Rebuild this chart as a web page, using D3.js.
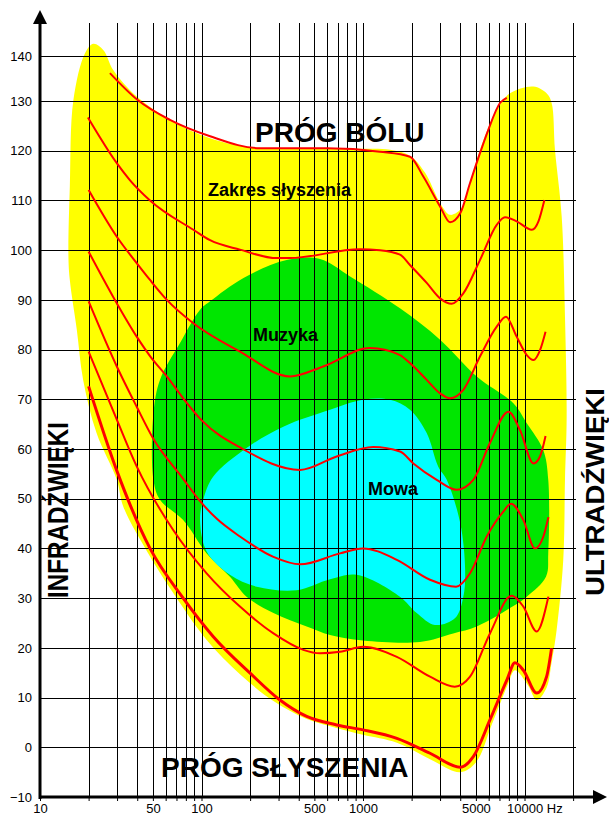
<!DOCTYPE html>
<html>
<head>
<meta charset="utf-8">
<script src="https://cdn.jsdelivr.net/npm/d3@7"></script>
<style>
  body { margin: 0; background: #fff; }
  svg { display: block; font-family: "Liberation Sans", Arial, sans-serif; }
</style>
</head>
<body>
<div id="chart"></div>
<script>
// tick values
const xLabels = [10, 50, 100, 500, 1000, 5000, 10000];
const gridFreqs = [20, 30, 40, 50, 60, 70, 80, 90, 100, 200, 300, 400, 500, 600, 700, 800, 900,
  1000, 2000, 3000, 4000, 5000, 6000, 7000, 8000, 9000, 10000, 20000];
const dbTicks = [-10, 0, 10, 20, 30, 40, 50, 60, 70, 80, 90, 100, 110, 120, 130, 140];

// regions [Hz, dB]
const hearingArea = [[16.1,130.2],[19,140.6],[21.4,142.7],[24.7,141.3],[28.4,136.9],[39.7,131],[63.8,126.2],
  [113,122.5],[191,120.8],[408,120.4],[1000,120.4],[1470,120.2],[1953,119],[2420,115.6],[3000,109.5],
  [3460,107.1],[4000,108.1],[4290,110.1],[5300,120.2],[6730,128.2],[8130,131.7],[11350,133.2],[13700,131.7],
  [14720,129.6],[15440,120.2],[16990,106.8],[17810,86.6],[18240,66.5],[17810,53.8],[17380,37.7],[15810,23.6],
  [14700,17],[13700,12],[11900,9.5],[10500,12.5],[8730,15.5],[7900,12.7],[6290,4.7],[5010,-3],[4000,-5],
  [2600,-2.4],[1620,0.9],[1000,2.5],[721,3.7],[448,5.7],[279,9.3],[173,14.7],[107.6,21.6],[67,31],[48,38.4],
  [32.8,48.4],[29.9,53.8],[22.4,63.2],[18.5,73.9],[16.9,84],[15.3,94],[15,98.7],[15.3,112.8]];
const musicArea = [[98,88],[113,89.7],[182,94.4],[337,98],[542,98.2],[832,94.7],[1694,88.3],[3000,82],
  [5060,74.6],[8530,69.2],[10330,65.2],[13060,59.8],[14030,53.8],[14030,39],[13580,34.3],[10330,30.3],
  [8130,28],[5060,24.3],[3620,22.9],[2250,21.2],[1000,21.5],[625,22.6],[448,24.3],[279,27],[190,30.3],
  [150,34.3],[107.6,39],[77,45.7],[55.3,49.8],[50.4,53.8],[50.4,67.2],[55.3,73.9],[73.6,81.3]];
const speechArea = [[102.6,49.8],[118,54.4],[190,60.2],[321,64.5],[625,67.9],[1000,69.9],[1470,69.9],
  [1953,67.9],[2480,63.2],[2920,56.5],[3300,53.8],[4000,45.1],[4290,35.7],[4180,30.3],[3720,26],[2790,24.6],
  [2150,27],[1694,30.3],[914,34.7],[625,33.8],[388,31.6],[220,32.3],[150,34.7],[107.6,39.4],[98,45.7]];

// equal loudness curves [Hz, dB]
const phon0 = [[20,72.6],[30,55.5],[48,40],[77,30],[118,22.3],[200,14.9],[306,9.5],[448,6.2],[687,4.5],
  [1000,3.5],[1620,1.8],[2600,-1.2],[4000,-4],[4820,-1.9],[6110,5.5],[7770,13.5],[8730,17],[9840,15.5],
  [11900,10.9],[13700,14.2],[14700,19.9]];
const phon20 = [[20,79.6],[29.9,65.9],[39.7,56.5],[66.8,43.7],[107.6,35],[173,28.3],[279,22.9],[427,19.6],
  [542,18.9],[721,19.2],[1000,20.2],[1620,18.2],[2600,14.2],[3700,12.2],[4600,14.2],[6110,22.9],[8340,30.5],
  [9840,28.3],[11900,23.3],[14060,30.3]];
const phon40 = [[20,89.7],[29.9,76.6],[39.7,68.5],[50,62.2],[77,54],[98,49.5],[124,46],[173,42.4],
  [279,38.3],[408,36.8],[721,39],[1000,40],[1620,37.7],[2600,33.7],[3770,32.3],[4600,35],[5840,42.4],
  [7390,47.4],[8250,49],[9840,45.7],[11610,40],[13090,42.4],[14060,46.3]];
const phon60 = [[20,99.7],[29.9,89.3],[39.7,82.6],[48,78.7],[61,74.6],[77,70.2],[100,65.8],[180,60],
  [408,55.8],[687,58.5],[1159,60.4],[1694,59.5],[2050,57.1],[2860,53.8],[3800,51.8],[4820,53.8],
  [6110,61.2],[7950,67.5],[9380,63.8],[11360,57.1],[12480,58.5],[13500,62.6]];
const phon80 = [[20,112.1],[29.9,102.7],[39.7,97.4],[48,94],[61,90],[89,85.3],[173,79.6],[353,74.6],
  [567,76.6],[1104,80.3],[1694,78.9],[1953,77.3],[2480,73.9],[3000,71.2],[3460,70.2],[4180,71.9],
  [5300,78.6],[6730,84.6],[7680,86.6],[8940,82.6],[10330,78.9],[11360,77.9],[12480,79.9],[13500,83.6]];
const phon100 = [[19.8,126.7],[29.9,117.5],[36,114.1],[48,110],[89,104.1],[113,102],[173,100.1],
  [292,98.4],[353,98.4],[957,100.2],[1274,100],[1694,99.1],[1953,97],[2480,93.4],[3000,90.3],[3540,89.2],
  [4180,91.3],[5300,98],[6730,105.1],[7570,106.6],[8940,105.8],[11100,104.1],[12200,105.8],[13280,110.1]];
const phon120 = [[27.1,136.2],[39.7,130.4],[63.8,126.2],[113,122.9],[230,120.5],[596,120.5],[1274,119.8],
  [1953,118.8],[2363,114.8],[3000,108.8],[3460,105.6],[4000,107.4],[4600,113.5],[5300,119.5],[5970,124.2],
  [7050,129.6],[7770,130.7]];

const width = 609, height = 816;

const svg = d3.select("#chart").append("svg")
  .attr("width", width)
  .attr("height", height);

const x = d3.scaleLog().domain([10, 10000]).range([40, 524.5]);
const y = d3.scaleLinear().domain([-10, 130, 140]).range([797, 101, 56]);

const closed = d3.line().x(d => x(d[0])).y(d => y(d[1])).curve(d3.curveCatmullRomClosed.alpha(0.5));
const open = d3.line().x(d => x(d[0])).y(d => y(d[1])).curve(d3.curveMonotoneX);

// coloured zones
svg.append("path").attr("d", closed(hearingArea)).attr("fill", "#ffff00");
svg.append("path").attr("d", closed(musicArea)).attr("fill", "#00e600");
svg.append("path").attr("d", closed(speechArea)).attr("fill", "#00ffff");

// grid
svg.append("g").selectAll("line")
  .data(gridFreqs)
  .join("line")
  .attr("x1", d => Math.round(x(d)) + 0.5)
  .attr("x2", d => Math.round(x(d)) + 0.5)
  .attr("y1", 23)
  .attr("y2", y(-10))
  .attr("stroke", "#000");

svg.append("g").selectAll("line")
  .data(dbTicks.filter(d => d > -10))
  .join("line")
  .attr("x1", 40)
  .attr("x2", 576)
  .attr("y1", d => Math.round(y(d)) + 0.5)
  .attr("y2", d => Math.round(y(d)) + 0.5)
  .attr("stroke", "#000");

// curves
const curves = [phon120, phon100, phon80, phon60, phon40, phon20];
svg.append("g").selectAll("path")
  .data(curves)
  .join("path")
  .attr("d", open)
  .attr("fill", "none")
  .attr("stroke", "#ff0000")
  .attr("stroke-width", 2);

svg.append("path")
  .attr("d", open(phon0))
  .attr("fill", "none")
  .attr("stroke", "#ff0000")
  .attr("stroke-width", 3);

// axes
svg.append("g")
  .attr("transform", `translate(0,${y(-10)})`)
  .call(d3.axisBottom(x)
    .tickValues([10].concat(gridFreqs))
    .tickSize(4)
    .tickPadding(3)
    .tickFormat(d => xLabels.includes(d) ? (d === 10000 ? "10000 Hz" : d) : ""))
  .call(g => g.select(".domain").remove())
  .call(g => g.selectAll(".tick line").attr("stroke", "#000"))
  .call(g => g.selectAll(".tick text").attr("font-size", 13).attr("font-family", null).attr("fill", "#000"))
  .call(g => g.selectAll(".tick text").filter(d => d === 10000).attr("text-anchor", "start").attr("x", -18));

svg.append("g")
  .attr("transform", "translate(40,0)")
  .call(d3.axisLeft(y).tickValues(dbTicks).tickSize(0).tickPadding(8))
  .call(g => g.select(".domain").remove())
  .call(g => g.selectAll(".tick text").attr("font-size", 13).attr("font-family", null).attr("fill", "#000"));

svg.append("line")
  .attr("x1", 40).attr("x2", 40)
  .attr("y1", y(-10) + 2).attr("y2", 22)
  .attr("stroke", "#000").attr("stroke-width", 3);
svg.append("path").attr("d", "M40,10L33,24L47,24Z").attr("fill", "#000");

svg.append("line")
  .attr("x1", 39).attr("x2", 595)
  .attr("y1", y(-10)).attr("y2", y(-10))
  .attr("stroke", "#000").attr("stroke-width", 3);
svg.append("path").attr("d", `M607,${y(-10)}L593,${y(-10) - 7}L593,${y(-10) + 7}Z`).attr("fill", "#000");

// labels
const bold = (t, px, tx, ty) => svg.append("text")
  .attr("x", tx).attr("y", ty)
  .attr("font-size", px).attr("font-weight", "bold")
  .text(t);

bold("PRÓG BÓLU", 28, 255, 142);
bold("Zakres słyszenia", 18, 208, 196);
bold("Muzyka", 18, 253, 341);
bold("Mowa", 18, 368, 495);
bold("PRÓG SŁYSZENIA", 28, 161, 777);

svg.append("text")
  .attr("transform", "translate(68,510) rotate(-90)")
  .attr("text-anchor", "middle")
  .attr("font-size", 30).attr("font-weight", "bold")
  .attr("textLength", 176).attr("lengthAdjust", "spacingAndGlyphs")
  .text("INFRADŹWIĘKI");

svg.append("text")
  .attr("transform", "translate(604,492) rotate(-90)")
  .attr("text-anchor", "middle")
  .attr("font-size", 26).attr("font-weight", "bold")
  .attr("textLength", 208).attr("lengthAdjust", "spacingAndGlyphs")
  .text("ULTRADŹWIĘKI");
</script>
</body>
</html>
